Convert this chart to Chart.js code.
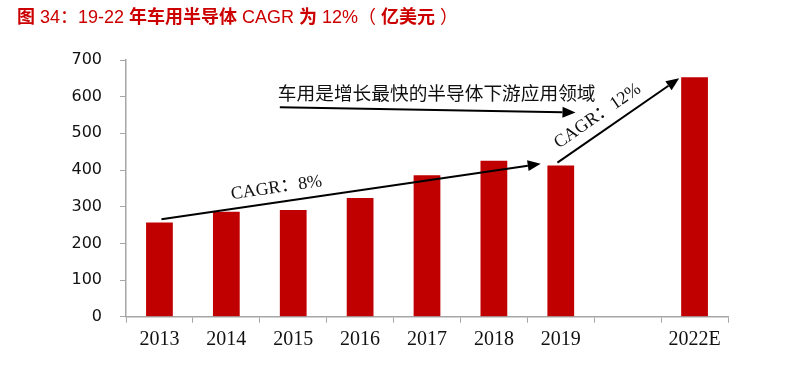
<!DOCTYPE html>
<html>
<head>
<meta charset="utf-8">
<script src="https://cdn.jsdelivr.net/npm/chart.js@4"></script>
<style>
  html, body { margin: 0; padding: 0; background: #fff; }
  #wrap { width: 807px; height: 367px; }
</style>
</head>
<body>
<div id="wrap"><canvas id="chart" width="807" height="367"></canvas></div>
<script>
// dados
const anos = ['2013', '2014', '2015', '2016', '2017', '2018', '2019', '', '2022E'];
const valores = [257, 286, 291, 324, 386, 425, 412, null, 653]; // 亿美元
const yTicks = [0, 100, 200, 300, 400, 500, 600, 700];

// título em pedaços: chinês em negrito, latim normal
const titulo = [
  ['图', true], [' 34', false], ['：', false], ['19-22 ', false],
  ['年车用半导体', true], [' CAGR ', false], ['为', true], [' 12%', false],
  ['（ ', false], ['亿美元', true], [' ）', false]
];
const notaTopo = '车用是增长最快的半导体下游应用领域';
const cagr1 = 'CAGR：8%';
const cagr2 = 'CAGR：12%';

// setas em coordenadas de dados (índice da categoria, valor)
const setas = [
  { from: [0.03, 266], to: [5.7, 417], label: cagr1, at: [1.75, 351] },
  { from: [1.8, 571], to: [6.22, 557] },
  { from: [5.95, 420], to: [7.77, 650], label: cagr2, at: [6.55, 547] }
];

const vermelho = '#c00000';
const eixoCor = '#a6a6a6';

// título desenhado à mão (mistura de pesos)
const tituloPlugin = {
  id: 'tituloPlugin',
  afterDraw(chart) {
    const ctx = chart.ctx;
    ctx.save();
    ctx.fillStyle = '#cc0000';
    ctx.textBaseline = 'middle';
    ctx.textAlign = 'left';
    let x = 17;
    titulo.forEach(([txt, bold]) => {
      ctx.font = (bold ? 'bold ' : '') + '18px "Liberation Sans", "Noto Sans CJK SC", sans-serif';
      ctx.fillText(txt, x, 18);
      x += ctx.measureText(txt).width;
    });
    ctx.restore();
  }
};

// desenha setas e textos por cima do gráfico
const anotacoes = {
  id: 'anotacoes',
  afterDatasetsDraw(chart) {
    const { ctx, scales: { x, y } } = chart;
    const px = p => [x.getPixelForValue(p[0]), y.getPixelForValue(p[1])];
    ctx.save();
    setas.forEach(s => {
      const [x1, y1] = px(s.from);
      const [x2, y2] = px(s.to);
      const ang = Math.atan2(y2 - y1, x2 - x1);
      const head = 13, half = 5.5;
      const bx = x2 - head * Math.cos(ang), by = y2 - head * Math.sin(ang);
      ctx.strokeStyle = '#000';
      ctx.fillStyle = '#000';
      ctx.lineWidth = 2;
      ctx.beginPath();
      ctx.moveTo(x1, y1);
      ctx.lineTo(bx, by);
      ctx.stroke();
      ctx.beginPath();
      ctx.moveTo(x2, y2);
      ctx.lineTo(bx + half * Math.sin(ang), by - half * Math.cos(ang));
      ctx.lineTo(bx - half * Math.sin(ang), by + half * Math.cos(ang));
      ctx.closePath();
      ctx.fill();
      if (s.label) {
        const [tx, ty] = px(s.at);
        ctx.save();
        ctx.translate(tx, ty);
        ctx.rotate(ang);
        ctx.font = '18px "Liberation Serif", "Noto Sans CJK SC", serif';
        ctx.textAlign = 'center';
        ctx.textBaseline = 'middle';
        ctx.fillStyle = '#111';
        ctx.fillText(s.label, 0, 0);
        ctx.restore();
      }
    });
    // texto de cima
    const [nx, ny] = px([1.77, 610]);
    ctx.font = '18.7px "Noto Sans CJK SC", sans-serif';
    ctx.textAlign = 'left';
    ctx.textBaseline = 'middle';
    ctx.fillStyle = '#111';
    ctx.fillText(notaTopo, nx, ny);
    ctx.restore();
  }
};

const ctx = document.getElementById('chart').getContext('2d');

new Chart(ctx, {
  type: 'bar',
  data: {
    labels: anos,
    datasets: [{
      data: valores,
      backgroundColor: vermelho,
      borderWidth: 0,
      categoryPercentage: 1,
      barPercentage: 0.4
    }]
  },
  options: {
    responsive: false,
    animation: false,
    layout: { padding: { left: 0, right: 79, top: 60, bottom: 0 } },
    plugins: {
      legend: { display: false },
      tooltip: { enabled: false },
      title: { display: false }
    },
    scales: {
      x: {
        afterFit: s => { s.height = 50.3; },
        grid: { drawOnChartArea: false, drawTicks: true, tickLength: 6, color: eixoCor, offset: true },
        border: { color: eixoCor, width: 1.5 },
        ticks: {
          color: '#111',
          padding: 5,
          font: { family: '"Liberation Serif", serif', size: 20 }
        }
      },
      y: {
        min: 0,
        max: 700,
        afterFit: s => { s.width = 126; },
        afterBuildTicks: s => { s.ticks = yTicks.map(v => ({ value: v })); },
        grid: { drawOnChartArea: false, drawTicks: true, tickLength: 6, color: eixoCor },
        border: { color: eixoCor, width: 1.5 },
        ticks: {
          color: '#111',
          padding: 18,
          font: { family: '"DejaVu Sans", sans-serif', size: 16 }
        }
      }
    }
  },
  plugins: [anotacoes, tituloPlugin]
});
</script>
</body>
</html>
